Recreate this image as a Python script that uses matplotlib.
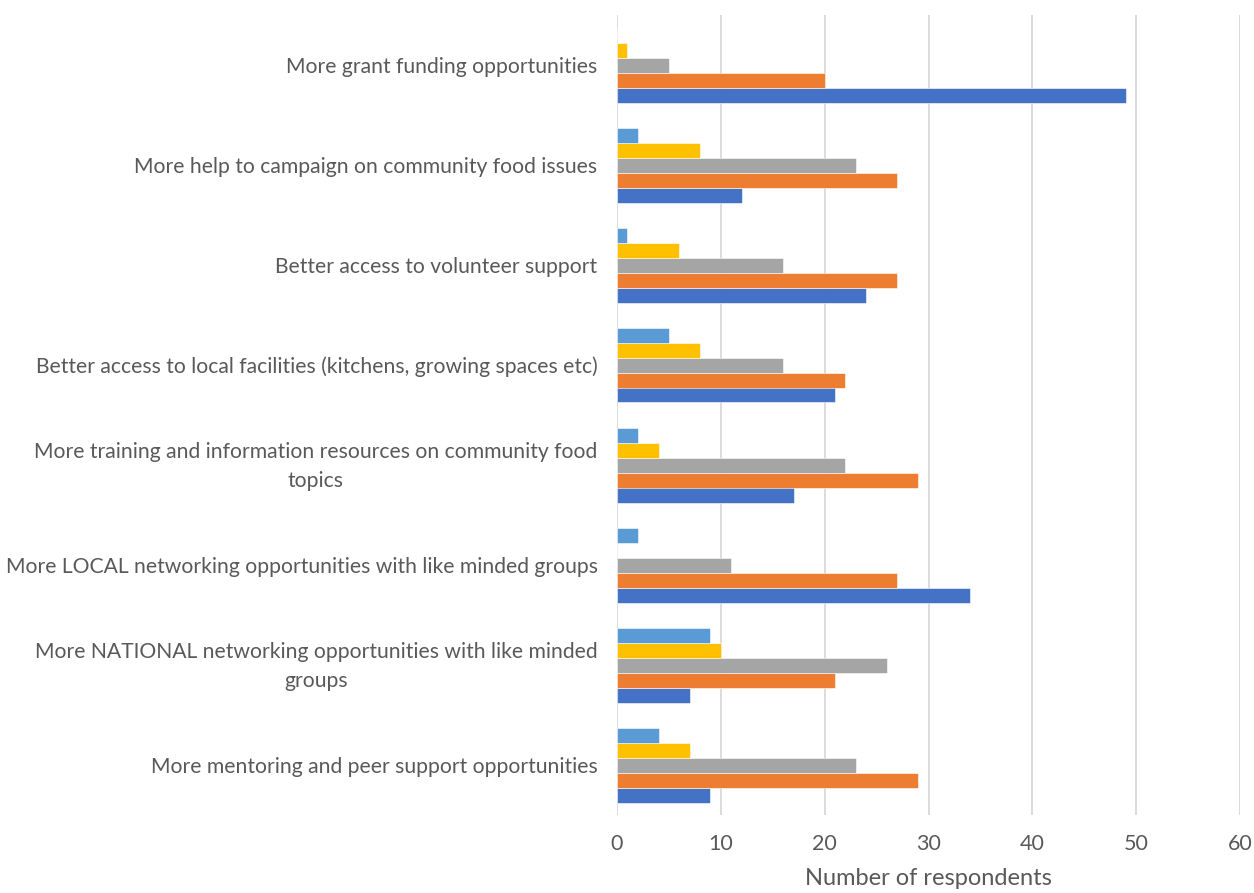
import matplotlib
matplotlib.use("Agg")
import matplotlib.pyplot as plt
import matplotlib.transforms as mtransforms
import numpy as np

categories = [
    "More grant funding opportunities",
    "More help to campaign on community food issues",
    "Better access to volunteer support",
    "Better access to local facilities (kitchens, growing spaces etc)",
    "More training and information resources on community food\ntopics",
    "More LOCAL networking opportunities with like minded groups",
    "More NATIONAL networking opportunities with like minded\ngroups",
    "More mentoring and peer support opportunities",
]
# series listed from bottom bar of each group to top bar
s_blue = [49, 12, 24, 21, 17, 34, 7, 9]
s_orange = [20, 27, 27, 22, 29, 27, 21, 29]
s_gray = [5, 23, 16, 16, 22, 11, 26, 23]
s_yellow = [1, 8, 6, 8, 4, 0, 10, 7]
s_lightblue = [0, 2, 1, 5, 2, 2, 9, 4]
xticks = [0, 10, 20, 30, 40, 50, 60]
xlabel = "Number of respondents"

series = [s_blue, s_orange, s_gray, s_yellow, s_lightblue]
colors = ["#4472C4", "#ED7D31", "#A5A5A5", "#FFC000", "#5B9BD5"]

plt.rcParams['font.family'] = ['Lato', 'DejaVu Sans']
fig = plt.figure(figsize=(12.54, 8.93), dpi=100)
ax = fig.add_axes([617/1254, 1 - 815/893, (1240 - 617)/1254, (815 - 15)/893])

y = np.arange(len(categories))
h = 0.15
offsets = [0.3, 0.15, 0.0, -0.15, -0.3]
for vals, col, off in zip(series, colors, offsets):
    ax.barh(y + off, vals, height=h, color=col, edgecolor='white', linewidth=0.4, zorder=3)

ax.set_ylim(len(categories) - 0.5, -0.5)
ax.set_xlim(0, 60)
ax.set_xticks(xticks)
ax.set_xticklabels([str(t) for t in xticks])
ax.set_yticks(y)
ax.set_yticklabels(categories, multialignment='center', linespacing=1.55)
ax.grid(axis='x', color='#D9D9D9', linewidth=1.3, zorder=0)
for sp in ax.spines.values():
    sp.set_visible(False)
ax.tick_params(axis='both', length=0, colors='#595959')
ax.tick_params(axis='y', pad=14, labelsize=15.2)
ax.tick_params(axis='x', pad=14, labelsize=15.5)
ax.set_xlabel(xlabel, color='#595959', fontsize=17, labelpad=10)

shift = mtransforms.ScaledTranslation(0, 5/100, fig.dpi_scale_trans)
for lab in ax.get_yticklabels():
    if "\n" in lab.get_text():
        lab.set_transform(lab.get_transform() + shift)

fig.savefig("out.png", dpi=100, facecolor='white')
